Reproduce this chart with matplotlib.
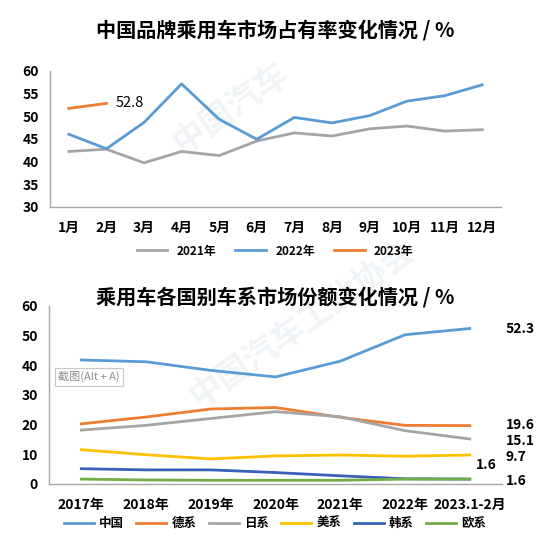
import matplotlib.pyplot as plt
import numpy as np

plt.rcParams['font.family'] = ['Noto Sans CJK SC', 'DejaVu Sans']

# top chart data
months = ['1月', '2月', '3月', '4月', '5月', '6月', '7月', '8月', '9月', '10月', '11月', '12月']
share_2021 = [42.2, 42.7, 39.7, 42.2, 41.3, 44.5, 46.3, 45.6, 47.2, 47.8, 46.7, 47.0]
share_2022 = [46.0, 42.8, 48.6, 57.1, 49.3, 44.9, 49.7, 48.5, 50.1, 53.3, 54.5, 56.9]
share_2023 = [51.7, 52.8]

# bottom chart data
years = ['2017年', '2018年', '2019年', '2020年', '2021年', '2022年', '2023.1-2月']
china = [41.7, 41.1, 38.2, 36.0, 41.3, 50.2, 52.3]
germany = [20.2, 22.5, 25.2, 25.7, 22.4, 19.7, 19.6]
japan = [18.1, 19.7, 22.0, 24.3, 22.6, 17.9, 15.1]
usa = [11.5, 9.8, 8.4, 9.4, 9.7, 9.3, 9.7]
korea = [5.1, 4.7, 4.7, 3.8, 2.7, 1.7, 1.6]
europe = [1.6, 1.3, 1.2, 1.2, 1.2, 1.6, 1.6]

BLUE = '#5B9BD5'
GREY = '#A5A5A5'
ORANGE = '#ED7D31'
YELLOW = '#FFC000'
DBLUE = '#3A5FB8'
GREEN = '#70AD47'


def style_axes(ax):
    for s in ['top', 'right']:
        ax.spines[s].set_visible(False)
    for s in ['left', 'bottom']:
        ax.spines[s].set_color('#A6A6A6')
        ax.spines[s].set_linewidth(1.0)
    ax.tick_params(axis='y', length=0, labelsize=10, pad=8)
    ax.tick_params(axis='x', length=0, labelsize=10, pad=10)
    for lab in ax.get_xticklabels() + ax.get_yticklabels():
        lab.set_fontweight('bold')


fig = plt.figure(figsize=(5.5, 5.4), dpi=100)

# very faint watermark behind everything
wm = dict(color='#F1F4F7', fontweight='bold', ha='center', va='center', zorder=-5)
fig.text(0.42, 0.80, '中国汽车', fontsize=24, rotation=35, **wm)
fig.text(0.55, 0.40, '中国汽车工业协会', fontsize=24, rotation=35, **wm)

fig.text(0.5, 0.944, '中国品牌乘用车市场占有率变化情况 / %', ha='center', va='center',
         fontsize=14.5, fontweight='bold')

ax1 = fig.add_axes([0.091, 0.617, 0.82, 0.252])
ax1.patch.set_alpha(0)
x1 = np.arange(len(months))
l1, = ax1.plot(x1, share_2021, color=GREY, lw=2, label='2021年')
l2, = ax1.plot(x1, share_2022, color=BLUE, lw=2, label='2022年')
l3, = ax1.plot(x1[:len(share_2023)], share_2023, color=ORANGE, lw=2, label='2023年')
ax1.text(x1[1] + 0.25, share_2023[-1], '%.1f' % share_2023[-1], va='center', fontsize=10.5)
ax1.set_xlim(-0.5, len(months) - 0.5)
ax1.set_ylim(30, 60)
ax1.set_yticks(np.arange(30, 61, 5))
ax1.set_xticks(x1)
ax1.set_xticklabels(months)
style_axes(ax1)
fig.legend(handles=[l1, l2, l3], loc='center', bbox_to_anchor=(0.5, 0.535), ncol=3,
           frameon=False, handlelength=2.6, columnspacing=1.6,
           prop={'weight': 'bold', 'size': 8.5})

fig.text(0.5, 0.45, '乘用车各国别车系市场份额变化情况 / %', ha='center', va='center',
         fontsize=14.5, fontweight='bold')

ax2 = fig.add_axes([0.089, 0.104, 0.824, 0.33])
ax2.patch.set_alpha(0)
x2 = np.arange(len(years))
series = [('中国', china, BLUE), ('德系', germany, ORANGE), ('日系', japan, GREY),
          ('美系', usa, YELLOW), ('韩系', korea, DBLUE), ('欧系', europe, GREEN)]
handles = []
for name, vals, c in series:
    h, = ax2.plot(x2, vals, color=c, lw=2, label=name)
    handles.append(h)
last = x2[-1] + 0.55
lab = dict(va='center', fontsize=10, fontweight='bold')
ax2.text(last, china[-1], '%.1f' % china[-1], **lab)
ax2.text(last, germany[-1] + 0.2, '%.1f' % germany[-1], **lab)
ax2.text(last, japan[-1] - 0.7, '%.1f' % japan[-1], **lab)
ax2.text(last, usa[-1] - 0.5, '%.1f' % usa[-1], **lab)
ax2.text(x2[-1] + 0.42, 6.2, '%.1f' % korea[-1], ha='right', **lab)
ax2.text(last, europe[-1] - 0.8, '%.1f' % europe[-1], **lab)
ax2.set_xlim(-0.5, len(years) - 0.5)
ax2.set_ylim(0, 60)
ax2.set_yticks(np.arange(0, 61, 10))
ax2.set_xticks(x2)
ax2.set_xticklabels(years)
style_axes(ax2)
ax2.text(0.02, 0.6, '截图(Alt + A)', transform=ax2.transAxes, fontsize=8, color='#8C8C8C',
         va='center', bbox=dict(boxstyle='square,pad=0.3', fc='white', ec='#C8C8C8', lw=0.8))
fig.legend(handles=handles, loc='center', bbox_to_anchor=(0.5, 0.03), ncol=6,
           frameon=False, handlelength=2.4, columnspacing=1.0, handletextpad=0.4,
           prop={'weight': 'bold', 'size': 9})

fig.savefig('out.png', dpi=100)
